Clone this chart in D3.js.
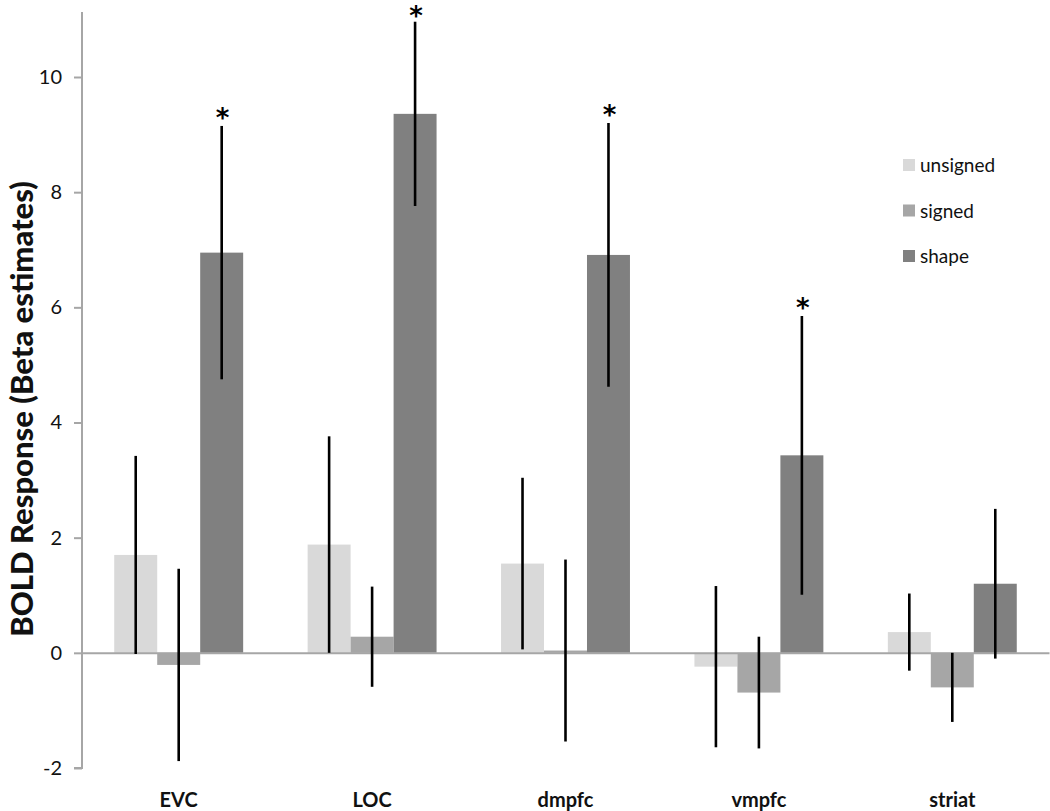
<!DOCTYPE html>
<html>
<head>
<meta charset="utf-8">
<script src="https://cdn.jsdelivr.net/npm/d3@7/dist/d3.min.js"></script>
<style>
  html, body { margin: 0; padding: 0; background: #fff; }
  svg { display: block; }
</style>
</head>
<body>
<svg id="chart" width="1050" height="811"></svg>
<script>
const categories = ["EVC", "LOC", "dmpfc", "vmpfc", "striat"];
const seriesNames = ["unsigned", "signed", "shape"];
const unsignedVals = [1.70, 1.88, 1.55, -0.24, 0.36];
const unsignedErr  = [1.72, 1.88, 1.49, 1.40, 0.67];
const signedVals   = [-0.21, 0.28, 0.04, -0.69, -0.60];
const signedErr    = [1.67, 0.87, 1.58, 0.97, 0.60];
const shapeVals    = [6.95, 9.36, 6.91, 3.43, 1.20];
const shapeErr     = [2.20, 1.60, 2.29, 2.42, 1.30];
const significant  = [true, true, true, true, false];
const yTicks = [-2, 0, 2, 4, 6, 8, 10];
const yTitle = "BOLD Response (Beta estimates)";

const colors = { unsigned: "#d9d9d9", signed: "#a6a6a6", shape: "#808080" };
const seriesData = {
  unsigned: { v: unsignedVals, e: unsignedErr },
  signed: { v: signedVals, e: signedErr },
  shape: { v: shapeVals, e: shapeErr }
};

const svg = d3.select("#chart");
const axisColor = "#a6a6a6";
const left = 82, right = 1049;

const y = d3.scaleLinear().domain([-2, 10]).range([768, 77]);
const yMax = y.invert(12);
const x0 = d3.scaleBand().domain(categories).range([left, right]).paddingInner(0).paddingOuter(0);
const x1 = d3.scaleBand().domain(seriesNames).range([0, x0.bandwidth()]).paddingInner(0).paddingOuter(0.75);

const bars = [];
categories.forEach((c, i) => {
  seriesNames.forEach(s => {
    bars.push({ cat: c, s, v: seriesData[s].v[i], e: seriesData[s].e[i], sig: s === "shape" && significant[i] });
  });
});

svg.append("g").selectAll("rect").data(bars).join("rect")
  .attr("x", d => x0(d.cat) + x1(d.s))
  .attr("width", x1.bandwidth())
  .attr("y", d => y(Math.max(0, d.v)))
  .attr("height", d => Math.abs(y(d.v) - y(0)))
  .attr("fill", d => colors[d.s]);

// Y axis
const yAxis = d3.axisLeft(y).tickValues(yTicks).tickSize(8).tickPadding(12).tickFormat(d => String(d));
const gy = svg.append("g").attr("transform", `translate(${left},0)`).call(yAxis);
gy.select(".domain").attr("d", `M-8,${y(-2)}H0V${y(yMax)}`).attr("stroke", axisColor).attr("stroke-width", 2).attr("fill", "none");
gy.selectAll(".tick line").attr("stroke", axisColor).attr("stroke-width", 2);
gy.selectAll(".tick text").attr("font-family", "Lato, sans-serif").attr("font-size", 20).attr("fill", "#111");

// Category axis along zero
const xAxis = d3.axisBottom(x0).tickSize(0).tickPadding(0);
const gx = svg.append("g").attr("transform", `translate(0,${y(0)})`).call(xAxis);
gx.select(".domain").attr("stroke", axisColor).attr("stroke-width", 2);
gx.selectAll(".tick text")
  .attr("font-family", "Lato, sans-serif").attr("font-size", 20).attr("font-weight", "bold").attr("fill", "#111")
  .attr("dy", 0).attr("y", 807 - y(0));

// Error bars
svg.append("g").selectAll("line").data(bars).join("line")
  .attr("x1", d => x0(d.cat) + x1(d.s) + x1.bandwidth() / 2)
  .attr("x2", d => x0(d.cat) + x1(d.s) + x1.bandwidth() / 2)
  .attr("y1", d => y(d.v + d.e))
  .attr("y2", d => y(d.v - d.e))
  .attr("stroke", "#000").attr("stroke-width", 2.6);

// Significance stars
svg.append("g").selectAll("text").data(bars.filter(d => d.sig)).join("text")
  .attr("x", d => x0(d.cat) + x1(d.s) + x1.bandwidth() / 2 + 1)
  .attr("y", d => Math.max(y(d.v + d.e) + 1, 25))
  .attr("text-anchor", "middle")
  .attr("font-family", "DejaVu Sans, sans-serif")
  .attr("font-weight", "bold")
  .attr("font-size", 26)
  .attr("fill", "#000")
  .text("*");

// Y title
svg.append("text")
  .attr("transform", `translate(33,409) rotate(-90)`)
  .attr("text-anchor", "middle")
  .attr("font-family", "Lato, sans-serif")
  .attr("font-weight", "900")
  .attr("font-size", 31)
  .attr("fill", "#111")
  .text(yTitle);

// Legend
const legend = svg.append("g").attr("transform", "translate(903,159)");
const lg = legend.selectAll("g").data(seriesNames).join("g")
  .attr("transform", (d, i) => `translate(0,${i * 45.5})`);
lg.append("rect").attr("width", 12).attr("height", 12).attr("fill", d => colors[d]);
lg.append("text").attr("x", 17).attr("y", 13).attr("font-family", "Lato, sans-serif").attr("font-size", 19).attr("fill", "#111").text(d => d);
</script>
</body>
</html>
